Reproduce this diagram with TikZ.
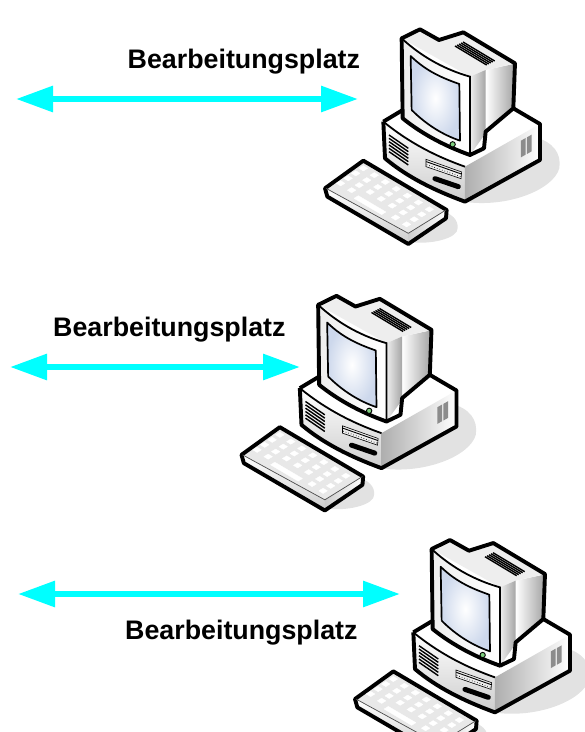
\documentclass[tikz,border=0pt]{standalone}
\usepackage{fontspec}
\setmainfont{Liberation Sans}
\usetikzlibrary{arrows.meta}
\definecolor{arrowcyan}{RGB}{0,255,255}
\definecolor{shadowgray}{RGB}{226,226,226}
\definecolor{facelight}{RGB}{238,238,238}
\definecolor{facemid}{RGB}{205,205,205}
\definecolor{facedark}{RGB}{165,165,165}
\definecolor{keyface}{RGB}{232,232,232}
\definecolor{screenblue}{RGB}{205,216,236}
\tikzset{
  x=1pt,y=-1pt,
  outline/.style={draw=black,line width=3.9pt,line join=round},
  duplex/.style={draw=arrowcyan,line width=6pt,{Triangle[length=37pt,width=25pt]}-{Triangle[length=37pt,width=25pt]}},
  caption/.style={font=\fontsize{26.8}{30}\selectfont\bfseries,inner sep=0pt,text=black},
  keycap/.style={fill=white,draw=white,line width=.3pt,line join=round},
  computer/.pic={
    \begin{scope}[scale=0.3333]
    % shadows
    \fill[shadowgray] (640,350) .. controls (700,365) and (725,400) .. (718,445)
       .. controls (700,510) and (560,565) .. (430,545) -- cycle;
    \fill[shadowgray] (370,575) .. controls (405,585) and (420,610) .. (410,635)
       .. controls (395,660) and (320,675) .. (265,665) -- cycle;
    % base
    \fill[white] (190,305) -- (240,275) -- (580,265) -- (660,312) -- (435,440) -- cycle;
    \path[top color=white,bottom color=facemid] (190,305) .. controls (270,370) and (350,410) .. (435,440) -- (435,545) .. controls (340,510) and (260,470) .. (195,415) -- cycle;
    \path[left color=facemid!85!black,right color=white] (435,440) -- (660,312) -- (660,420) -- (435,545) -- cycle;
    \draw[black,line width=1.8pt] (190,305) .. controls (270,370) and (350,410) .. (435,440);
    \path[outline] (190,305) -- (195,415) .. controls (260,470) and (340,510) .. (435,545) -- (660,420) -- (660,312) -- (580,265);
    \path[outline] (190,305) -- (245,272);
    % base left vents
    \foreach \k in {0,1,2,3,4,5}
      \draw[black,line width=1.4pt] (207,{345+\k*10}) -- (265,{385+\k*10});
    % right vents
    \fill[facedark!85!black] (603,362) -- (617,354) -- (617,404) -- (603,412) -- cycle;
    \fill[facedark!85!black] (621,352) -- (635,344) -- (635,394) -- (621,402) -- cycle;
    % drive
    \path[fill=facelight,draw=black,line width=.6pt] (318,418) -- (425,456) -- (423,476) -- (318,440) -- cycle;
    \draw[black,line width=.7pt,dotted] (320,434) -- (422,470);
    \draw[black,line width=.9pt] (319,425) -- (424,462);
    \draw[black,line width=5pt,line cap=round] (345,476) -- (415,500);
    % monitor right side
    \path[left color=white,right color=facedark] (497,150) -- (582,132) -- (580,262) -- (497,335) -- cycle;
    % monitor top
    \path[fill=facelight] (245,55) -- (300,28) -- (357,60) -- (430,37) -- (585,130) -- (497,150) -- (450,170) -- cycle;
    % monitor neck side
    \path[left color=facelight,right color=facedark] (450,170) -- (497,150) -- (497,340) -- (450,405) -- cycle;
    % front
    \path[left color=facelight,right color=white] (245,55) .. controls (310,115) and (380,150) .. (450,170) -- (450,405)
       .. controls (380,380) and (310,345) .. (248,295) -- cycle;
    \path[outline] (245,55) -- (300,28) -- (357,60) -- (430,37) -- (585,130) -- (580,265) -- (497,335) -- (492,385) -- (450,405)
       .. controls (380,380) and (310,345) .. (248,295) -- cycle;
    \draw[black,line width=1.8pt] (245,55) .. controls (310,115) and (380,150) .. (450,170) -- (450,405);
    % top vents
    \foreach \k in {0,1,2,3,4}
      \draw[black,line width=1.4pt] ({405+\k*6},{78-\k*3}) -- ({500+\k*6},{135-\k*3});
    % screen
    \path[inner color=white,outer color=screenblue]
       (272,108) .. controls (320,155) and (370,175) .. (418,192) -- (420,362)
       .. controls (370,345) and (320,315) .. (275,270) -- cycle;
    \draw[black,line width=1.7pt,line join=round] (275,270) -- (272,108) .. controls (320,155) and (370,175) .. (418,192) -- (420,362)
       .. controls (370,345) and (320,315) .. (275,270);
    % LED
    \path[fill=green!45!gray!70!white,draw=black,line width=.9pt] (398,373) circle (8);
    % keyboard
    \path[fill=keyface] (18,505) -- (130,425) -- (378,570) -- (265,640) -- cycle;
    \path[top color=white,bottom color=facemid] (18,505) -- (265,640) -- (265,672) -- (22,527) -- cycle;
    \path[left color=facemid,right color=white] (265,640) -- (378,570) -- (378,595) -- (265,672) -- cycle;
    \path[outline] (15,505) -- (130,422) -- (380,570) -- (378,595) -- (265,672) -- (22,530) -- cycle;
    \draw[gray!60!black,line width=.7pt] (18,505) -- (265,640) -- (378,570);
    % keys
    \begin{scope}[shift={(130,445)}]
      \foreach \i in {0,...,6}
        \foreach \j in {0,...,3} {
          \pgfmathtruncatemacro{\skipkey}{(\j==3 && \i>=2 && \i<=4) ? 1 : 0}
          \ifnum\skipkey=0
            \pgfmathsetmacro{\ux}{\i*33-\j*22.7}
            \pgfmathsetmacro{\uy}{\i*20.5+\j*15}
            \path[keycap] (\ux-13,\uy) -- (\ux,\uy-8) -- (\ux+13,\uy) -- (\ux,\uy+8) -- cycle;
          \fi
        }
      % long bar
      \path[keycap] (-28,90) -- (-15,82) -- (68,131) -- (55,139) -- cycle;
    \end{scope}
    \end{scope}
  }
}
\begin{document}
\begin{tikzpicture}
\useasboundingbox (0,0) rectangle (585,732);
\clip (0,0) rectangle (585,732);
\pic (pcA) at (320,20) {computer};
\pic (pcB) at (236.5,286.5) {computer};
\pic (pcC) at (350,530.7) {computer};
\coordinate (a1) at (16,99);  \coordinate (a2) at (358,99);
\coordinate (b1) at (10,367); \coordinate (b2) at (300,367);
\coordinate (c1) at (18,594); \coordinate (c2) at (400,594);
\draw[duplex] (a1) -- (a2);
\draw[duplex] (b1) -- (b2);
\draw[duplex] (c1) -- (c2);
\node[caption,anchor=base west] (ta) at (127.5,68) {Bearbeitungsplatz};
\node[caption,anchor=base west] (tb) at (53,336) {Bearbeitungsplatz};
\node[caption,anchor=base west] (tc) at (125,639) {Bearbeitungsplatz};
\end{tikzpicture}
\end{document}
